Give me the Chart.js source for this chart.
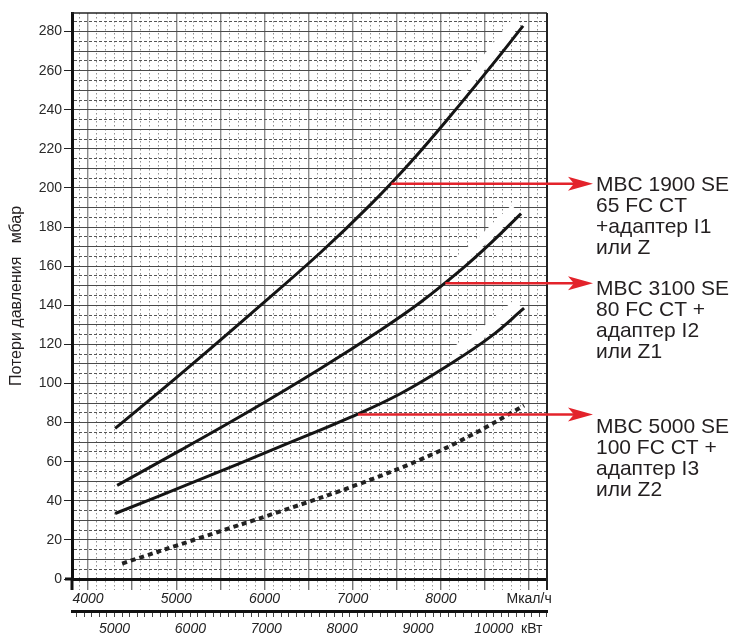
<!DOCTYPE html>
<html>
<head>
<meta charset="utf-8">
<script src="https://cdn.jsdelivr.net/npm/chart.js@4.4.0/dist/chart.umd.min.js"></script>
<style>
  html, body { margin: 0; padding: 0; background: #fff; }
  #caja { width: 736px; height: 636px; }
</style>
</head>
<body>
<div id="caja"><canvas id="Perdidas"></canvas></div>
<script>
// Curvas: расход в Мкал/ч -> потери давления в мбар
const mcal1 = [4307, 5045, 5841, 6636, 7205, 7659, 8114, 8568, 8932];
const mbar1 = [77.0, 104.7, 135.5, 167.0, 191.6, 213.3, 237.2, 262.2, 282.9];

const mcal2 = [4330, 5045, 5841, 6636, 7318, 7773, 8227, 8568, 8909];
const mbar2 = [47.9, 65.8, 86.2, 107.7, 127.4, 141.7, 158.1, 171.9, 186.9];

const mcal3 = [4307, 5216, 6182, 6977, 7545, 8114, 8568, 8943];
const mbar3 = [33.5, 49.9, 67.8, 82.8, 94.9, 110.2, 124.1, 138.5];

const mcal4 = [4386, 5273, 6182, 7091, 7773, 8341, 8943];
const mbar4 = [7.9, 21.1, 34.6, 48.9, 61.2, 73.5, 88.7];

// flechas rojas: punto de la curva donde nacen
const flechaMcal = [7440, 8050, 7060];
const flechaMbar = [202.2, 151.3, 84.2];
const etiquetas = [
    ['MBC 1900 SE', '65 FC CT', '+адаптер I1', 'или Z'],
    ['MBC 3100 SE', '80 FC CT +', 'адаптер I2', 'или Z1'],
    ['MBC 5000 SE', '100 FC CT +', 'адаптер I3', 'или Z2']
];

// ejes
const xMin = 3818, xMax = 9203;   // Мкал/ч
const yMin = 0, yMax = 289.5;     // мбар
const kcalPorKw = 0.86;           // 1 кВт = 0,86 ккал/ч * 1000

const puntos = (xs, ys) => xs.map((x, i) => ({x: x, y: ys[i]}));

Chart.defaults.font.family = '"Liberation Sans", Arial, sans-serif';

// brillo blanco del escaneo junto al final de las curvas
const brillo = {
    id: 'brillo',
    beforeDatasetsDraw(chart) {
        const ctx = chart.ctx;
        chart.data.datasets.forEach((ds, i) => {
            if (ds.brillo === undefined) return;
            const pts = chart.getDatasetMeta(i).data;
            const k = Math.floor(ds.brillo), f = ds.brillo - k;
            const x0 = pts[k].x + (pts[k + 1].x - pts[k].x) * f;
            const y0 = pts[k].y + (pts[k + 1].y - pts[k].y) * f;
            ctx.save();
            ctx.strokeStyle = '#fff';
            ctx.lineWidth = 10;
            ctx.beginPath();
            ctx.moveTo(x0 - 6, y0 - 5);
            for (let j = k + 1; j < pts.length; j++) ctx.lineTo(pts[j].x - 6, pts[j].y - 5);
            ctx.stroke();
            ctx.restore();
        });
    }
};

const marco = {
    id: 'marco',
    afterDraw(chart) {
        const ctx = chart.ctx;
        const a = chart.chartArea;
        const xs = chart.scales.x, ys = chart.scales.y;
        ctx.save();
        // bordes superior y derecho
        ctx.strokeStyle = '#222';
        ctx.lineWidth = 1.5;
        ctx.beginPath();
        ctx.moveTo(a.left, a.top);
        ctx.lineTo(a.right, a.top);
        ctx.stroke();
        ctx.lineWidth = 2;
        ctx.beginPath();
        ctx.moveTo(a.right, a.top);
        ctx.lineTo(a.right, a.bottom + 11);
        ctx.stroke();
        // prolongaciones de los ejes gruesos
        ctx.strokeStyle = '#111';
        ctx.lineWidth = 3;
        ctx.beginPath();
        ctx.moveTo(a.left, a.bottom);
        ctx.lineTo(a.left, a.bottom + 11);
        ctx.moveTo(a.left - 7, a.bottom);
        ctx.lineTo(a.left, a.bottom);
        ctx.stroke();

        // flechas y textos
        const puntaX = a.right + 46;
        const desfase = [0, 4, 11];
        flechaMcal.forEach((m, i) => {
            const x0 = xs.getPixelForValue(m);
            const y0 = ys.getPixelForValue(flechaMbar[i]);
            ctx.strokeStyle = '#e3232b';
            ctx.fillStyle = '#e3232b';
            ctx.lineWidth = 2.5;
            ctx.beginPath();
            ctx.moveTo(x0, y0);
            ctx.lineTo(puntaX - 18, y0);
            ctx.stroke();
            ctx.beginPath();
            ctx.moveTo(puntaX, y0);
            ctx.lineTo(puntaX - 25, y0 - 7);
            ctx.lineTo(puntaX - 19, y0);
            ctx.lineTo(puntaX - 25, y0 + 7);
            ctx.closePath();
            ctx.fill();

            ctx.fillStyle = '#231f20';
            ctx.font = '21px "Liberation Sans", Arial, sans-serif';
            ctx.textAlign = 'left';
            ctx.textBaseline = 'alphabetic';
            etiquetas[i].forEach((t, k) => {
                ctx.fillText(t, puntaX + 3, y0 + desfase[i] + 7.5 + k * 21);
            });
        });
        ctx.restore();
    }
};

const estiloX = (c) => c.tick && c.tick.value % 500 === 0;
const estiloY = (c) => c.tick && c.tick.value % 10 === 0;

const grafica = new Chart(document.getElementById('Perdidas').getContext('2d'), {
    type: 'line',
    data: {
        datasets: [
            {data: puntos(mcal1, mbar1), borderColor: '#151515', borderWidth: 3, brillo: 6.4},
            {data: puntos(mcal2, mbar2), borderColor: '#151515', borderWidth: 3, brillo: 6.1},
            {data: puntos(mcal3, mbar3), borderColor: '#151515', borderWidth: 3, brillo: 5.2},
            {data: puntos(mcal4, mbar4), borderColor: '#222', borderWidth: 4, borderDash: [5, 4]}
        ]
    },
    options: {
        responsive: true,
        maintainAspectRatio: false,
        animation: false,
        layout: {padding: {left: 0, top: 13, right: 189, bottom: 0}},
        elements: {
            point: {radius: 0, hoverRadius: 0},
            line: {tension: 0.4, fill: false, borderCapStyle: 'butt'}
        },
        plugins: {legend: {display: false}, tooltip: {enabled: false}},
        scales: {
            x: {
                type: 'linear',
                position: 'bottom',
                min: xMin,
                max: xMax,
                weight: 0,
                afterFit: (s) => { s.height = 32; },
                border: {
                    display: true, color: '#111', width: 3,
                    dash: (c) => (c.tick && !estiloX(c)) ? [1.5, 2.5] : []
                },
                grid: {
                    color: (c) => estiloX(c) ? '#8a8a8a' : '#8f8f8f',
                    lineWidth: (c) => estiloX(c) ? 1.4 : 1,
                    tickLength: 11,
                    tickColor: (c) => estiloX(c) ? '#777' : '#999',
                    tickWidth: (c) => estiloX(c) ? 1.4 : 1,
                    tickBorderDash: (c) => estiloX(c) ? [] : [1.5, 2.5]
                },
                ticks: {
                    stepSize: 100,
                    includeBounds: false,
                    autoSkip: false,
                    maxRotation: 0,
                    minRotation: 0,
                    padding: 1,
                    color: '#222',
                    font: (c) => (c.tick && c.tick.value === 9000)
                        ? {size: 14, style: 'normal'}
                        : {size: 14, style: 'italic'},
                    callback: (v) => v === 9000 ? 'Мкал/ч' : (v % 1000 === 0 ? String(v) : '')
                }
            },
            x2: {
                type: 'linear',
                position: 'bottom',
                min: xMin / kcalPorKw,
                max: xMax / kcalPorKw,
                weight: 1,
                afterFit: (s) => { s.height = 25; },
                border: {display: true, color: '#111', width: 3},
                grid: {
                    drawOnChartArea: false,
                    tickLength: 6,
                    tickColor: '#444',
                    tickWidth: 1
                },
                ticks: {
                    stepSize: 100,
                    includeBounds: false,
                    autoSkip: false,
                    maxRotation: 0,
                    minRotation: 0,
                    padding: 4,
                    color: '#222',
                    font: (c) => (c.tick && c.tick.value === 10500)
                        ? {size: 14, style: 'normal'}
                        : {size: 14, style: 'italic'},
                    callback: (v) => v === 10500 ? 'кВт' : (v % 1000 === 0 ? String(v) : '')
                }
            },
            y: {
                type: 'linear',
                position: 'left',
                min: yMin,
                max: yMax,
                afterFit: (s) => { s.width = 72; },
                border: {
                    display: true, color: '#111', width: 3,
                    dash: (c) => (c.tick && !estiloY(c)) ? [3, 2] : []
                },
                grid: {
                    color: (c) => estiloY(c) ? '#4a4a4a' : '#555',
                    lineWidth: 1,
                    tickLength: 8,
                    tickColor: (c) => (c.tick && c.tick.value % 20 === 0) ? '#222' : 'rgba(0,0,0,0)',
                    tickWidth: 1
                },
                title: {
                    display: true,
                    text: 'Потери давления   мбар',
                    color: '#231f20',
                    font: {size: 16},
                    padding: {top: 7, bottom: 0}
                },
                ticks: {
                    stepSize: 5,
                    includeBounds: false,
                    autoSkip: false,
                    padding: 2,
                    color: '#2a2a2a',
                    font: {size: 14},
                    callback: (v) => v % 20 === 0 ? String(v) : ''
                }
            }
        }
    },
    plugins: [brillo, marco]
});
</script>
</body>
</html>
